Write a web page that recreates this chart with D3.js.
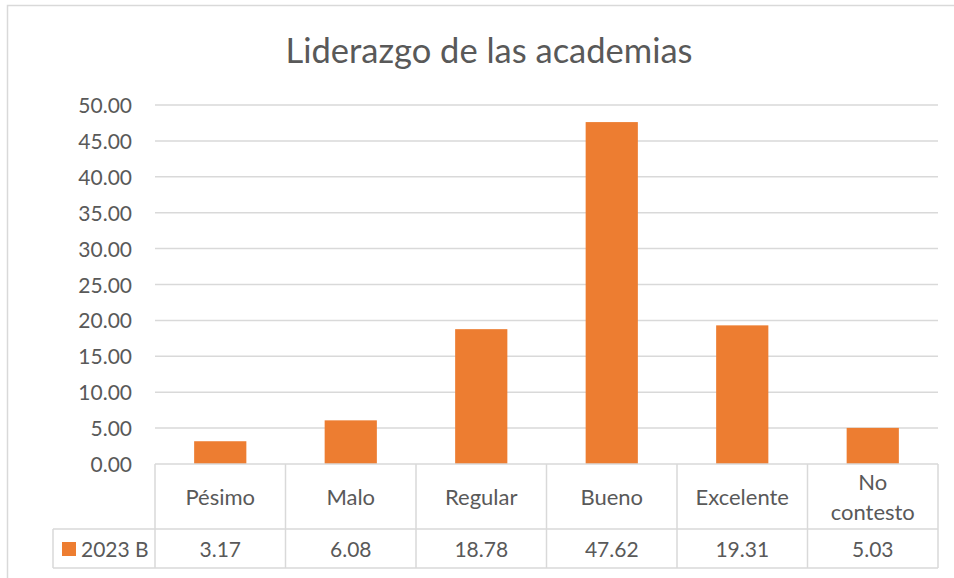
<!DOCTYPE html>
<html>
<head>
<meta charset="utf-8">
<script src="https://cdn.jsdelivr.net/npm/d3@7"></script>
<style>
  body { margin: 0; background: #fff; }
  text { font-family: Lato, "Open Sans", sans-serif; fill: #595959; }
</style>
</head>
<body>
<div id="chart"></div>
<script>
// datos de la grafica
var categories = ["Pésimo", "Malo", "Regular", "Bueno", "Excelente", "No contesto"];
var seriesName = "2023 B";
var values = [3.17, 6.08, 18.78, 47.62, 19.31, 5.03];
var yTicks = [0, 5, 10, 15, 20, 25, 30, 35, 40, 45, 50];
var title = "Liderazgo de las academias";

var w = 954, h = 578;
var plotLeft = 155, plotRight = 938, plotTop = 105, base = 464;
var row1 = 529, row2 = 568, legendLeft = 53;
var grid = "#d9d9d9", orange = "#ed7d31";

var svg = d3.select("#chart").append("svg")
  .attr("width", w)
  .attr("height", h);

// marco del grafico
svg.append("rect")
  .attr("x", 7.5).attr("y", 5.5)
  .attr("width", 960).attr("height", 590)
  .attr("fill", "#fff")
  .attr("stroke", grid)
  .attr("stroke-width", 1.5);

svg.append("text")
  .attr("x", 489).attr("y", 63)
  .attr("text-anchor", "middle")
  .attr("font-size", 34.5)
  .text(title);

var x = d3.scaleBand()
  .domain(categories)
  .range([plotLeft, plotRight])
  .paddingInner(0.6)
  .paddingOuter(0.3);

var y = d3.scaleLinear()
  .domain([0, 50])
  .range([base, plotTop]);

// lineas de cuadricula
svg.append("g").selectAll("line")
  .data(yTicks.filter(function(d) { return d > 0; }))
  .enter().append("line")
  .attr("x1", plotLeft).attr("x2", plotRight)
  .attr("y1", function(d) { return y(d); })
  .attr("y2", function(d) { return y(d); })
  .attr("stroke", grid)
  .attr("stroke-width", 1.5);

// eje y
var yAxis = svg.append("g")
  .attr("transform", "translate(" + (plotLeft - 23) + ",0)")
  .call(d3.axisLeft(y).tickValues(yTicks).tickFormat(d3.format(".2f")).tickSize(0).tickPadding(0));
yAxis.select(".domain").remove();
yAxis.selectAll("text")
  .attr("font-size", 21)
  .attr("font-family", "Lato, sans-serif")
  .attr("fill", "#595959")
  .attr("dy", "0.36em");

// barras
svg.append("g").selectAll("rect")
  .data(values)
  .enter().append("rect")
  .attr("x", function(d, i) { return x(categories[i]); })
  .attr("width", x.bandwidth())
  .attr("y", function(d) { return y(d); })
  .attr("height", function(d) { return base - y(d); })
  .attr("fill", orange);

// tabla de datos
var step = x.step();
var cols = d3.range(categories.length + 1).map(function(i) { return plotLeft + i * step; });
var tbl = svg.append("g")
  .attr("stroke", grid)
  .attr("stroke-width", 1.5);
tbl.append("line").attr("x1", plotLeft).attr("x2", plotRight).attr("y1", base).attr("y2", base);
tbl.append("line").attr("x1", legendLeft).attr("x2", plotRight).attr("y1", row1).attr("y2", row1);
tbl.append("line").attr("x1", legendLeft).attr("x2", plotRight).attr("y1", row2).attr("y2", row2);
tbl.append("line").attr("x1", legendLeft).attr("x2", legendLeft).attr("y1", row1).attr("y2", row2);
tbl.selectAll("line.col")
  .data(cols)
  .enter().append("line")
  .attr("class", "col")
  .attr("x1", function(d) { return d; })
  .attr("x2", function(d) { return d; })
  .attr("y1", base).attr("y2", row2);

// etiquetas de categoria
svg.append("g").selectAll("text")
  .data(categories)
  .enter().append("text")
  .attr("text-anchor", "middle")
  .attr("font-size", 22)
  .each(function(d) {
    var cx = x(d) + x.bandwidth() / 2;
    var words = d === "No contesto" ? ["No", "contesto"] : [d];
    var t = d3.select(this);
    var y0 = (base + row1) / 2 + 8 - (words.length - 1) * 15;
    words.forEach(function(wd, k) {
      t.append("tspan").attr("x", cx).attr("y", y0 + k * 30).text(wd);
    });
  });

// valores
svg.append("g").selectAll("text")
  .data(values)
  .enter().append("text")
  .attr("text-anchor", "middle")
  .attr("font-size", 21)
  .attr("x", function(d, i) { return x(categories[i]) + x.bandwidth() / 2; })
  .attr("y", (row1 + row2) / 2 + 8)
  .text(function(d) { return d3.format(".2f")(d); });

// leyenda
svg.append("rect")
  .attr("x", 62).attr("y", 542)
  .attr("width", 14).attr("height", 14)
  .attr("fill", orange);
svg.append("text")
  .attr("x", 81).attr("y", (row1 + row2) / 2 + 8)
  .attr("font-size", 21)
  .text(seriesName);
</script>
</body>
</html>
